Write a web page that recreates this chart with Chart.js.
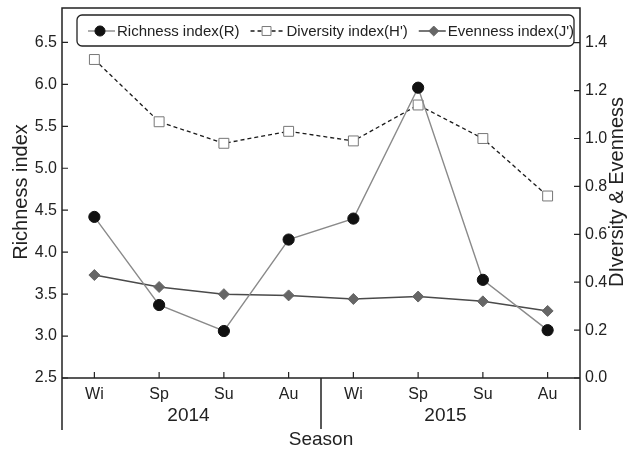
<!DOCTYPE html>
<html>
<head>
<meta charset="utf-8">
<script src="https://cdn.jsdelivr.net/npm/chart.js@4"></script>
<style>
  html, body { margin: 0; padding: 0; background: #fff; }
  #wrap { width: 637px; height: 453px; }
</style>
</head>
<body>
<div id="wrap"><canvas id="c" width="637" height="453"></canvas></div>
<script>
// Seasonal community indices, 2014-2015
const seasons = ['Wi', 'Sp', 'Su', 'Au', 'Wi', 'Sp', 'Su', 'Au'];
const years = ['2014', '2015'];
const richness = [4.42, 3.37, 3.06, 4.15, 4.40, 5.96, 3.67, 3.07];
const diversity = [1.33, 1.07, 0.98, 1.03, 0.99, 1.14, 1.00, 0.76];
const evenness = [0.43, 0.38, 0.35, 0.345, 0.33, 0.34, 0.32, 0.28];
const seriesNames = ['Richness index(R)', "Diversity index(H')", "Evenness index(J')"];
const leftTitle = 'Richness index';
const rightTitle = 'DIversity & Evenness';
const xTitle = 'Season';

const FONT = '"Liberation Sans", Arial, Helvetica, sans-serif';
const INK = '#222';

function keepSteps(step) {
  return scale => {
    scale.ticks = scale.ticks.filter(t => Math.abs(t.value / step - Math.round(t.value / step)) < 1e-6);
  };
}

// Frame, inward tick marks, axis titles, year groups and the boxed legend
const decorations = {
  id: 'decorations',
  afterDraw(chart) {
    const ctx = chart.ctx;
    const a = chart.chartArea;
    const sx = chart.scales.x, sy = chart.scales.y, sy1 = chart.scales.y1;
    const lowEnd = 430;
    ctx.save();
    ctx.strokeStyle = INK;
    ctx.lineWidth = 1.5;
    ctx.beginPath();
    ctx.moveTo(a.left, lowEnd); ctx.lineTo(a.left, a.top); ctx.lineTo(a.right, a.top); ctx.lineTo(a.right, lowEnd);
    ctx.moveTo(a.left, a.bottom); ctx.lineTo(a.right, a.bottom);
    const divX = sx.getPixelForValue(3.5);
    ctx.moveTo(divX, a.bottom); ctx.lineTo(divX, 429);
    ctx.stroke();

    // inward ticks
    ctx.lineWidth = 1.2;
    ctx.beginPath();
    sy.ticks.forEach((t, i) => {
      const y = sy.getPixelForTick(i);
      ctx.moveTo(a.left, y); ctx.lineTo(a.left + 6, y);
    });
    sy1.ticks.forEach((t, i) => {
      const y = sy1.getPixelForTick(i);
      ctx.moveTo(a.right, y); ctx.lineTo(a.right - 6, y);
    });
    sx.ticks.forEach((t, i) => {
      const x = sx.getPixelForTick(i);
      ctx.moveTo(x, a.bottom); ctx.lineTo(x, a.bottom - 6);
    });
    ctx.stroke();

    // year group labels and x title
    ctx.fillStyle = INK;
    ctx.textAlign = 'center';
    ctx.textBaseline = 'middle';
    ctx.font = '19px ' + FONT;
    ctx.fillText(years[0], (a.left + divX) / 2 - 3, 416);
    ctx.fillText(years[1], (divX + a.right) / 2 - 5, 416);
    ctx.fillText(xTitle, divX, 440);

    // vertical titles
    ctx.font = '20px ' + FONT;
    ctx.save();
    ctx.translate(21, 192);
    ctx.rotate(-Math.PI / 2);
    ctx.fillText(leftTitle, 0, 0);
    ctx.restore();
    ctx.save();
    ctx.translate(617, 192);
    ctx.rotate(-Math.PI / 2);
    ctx.fillText(rightTitle, 0, 0);
    ctx.restore();

    // legend box
    ctx.lineWidth = 1.3;
    ctx.strokeStyle = INK;
    ctx.beginPath();
    ctx.roundRect(77, 15, 497, 31, 5);
    ctx.stroke();

    const ly = 31;
    const sampleW = [27, 34, 27];
    const markerAt = [12, 16, 15];
    let x = 88;
    ctx.font = '15px ' + FONT;
    ctx.textAlign = 'left';
    chart.data.datasets.forEach((ds, i) => {
      ctx.save();
      ctx.strokeStyle = ds.borderColor;
      ctx.lineWidth = ds.borderWidth;
      ctx.setLineDash(ds.borderDash || []);
      ctx.beginPath();
      ctx.moveTo(x, ly); ctx.lineTo(x + sampleW[i], ly);
      ctx.stroke();
      ctx.setLineDash([]);
      ctx.fillStyle = ds.pointBackgroundColor;
      ctx.strokeStyle = ds.pointBorderColor;
      ctx.lineWidth = ds.pointBorderWidth;
      Chart.helpers.drawPoint(ctx, {
        pointStyle: ds.pointStyle,
        radius: ds.pointRadius * 0.9,
        borderWidth: ds.pointBorderWidth,
        rotation: 0
      }, x + markerAt[i], ly);
      ctx.restore();
      const tx = x + sampleW[i] + 2;
      ctx.fillStyle = INK;
      ctx.fillText(ds.label, tx, ly + 1);
      x = tx + ctx.measureText(ds.label).width + 11;
    });
    ctx.restore();
  }
};

new Chart(document.getElementById('c'), {
  type: 'line',
  data: {
    labels: seasons,
    datasets: [
      {
        label: seriesNames[0],
        data: richness,
        yAxisID: 'y',
        borderColor: '#8a8a8a',
        borderWidth: 1.4,
        pointStyle: 'circle',
        pointRadius: 5.6,
        pointBackgroundColor: '#111',
        pointBorderColor: '#111',
        pointBorderWidth: 1
      },
      {
        label: seriesNames[1],
        data: diversity,
        yAxisID: 'y1',
        borderColor: '#1a1a1a',
        borderWidth: 1.3,
        borderDash: [4, 3],
        pointStyle: 'rect',
        pointRadius: 7,
        pointBackgroundColor: '#fff',
        pointBorderColor: '#777',
        pointBorderWidth: 1
      },
      {
        label: seriesNames[2],
        data: evenness,
        yAxisID: 'y1',
        borderColor: '#4a4a4a',
        borderWidth: 1.5,
        pointStyle: 'rectRot',
        pointRadius: 5.5,
        pointBackgroundColor: '#666',
        pointBorderColor: '#666',
        pointBorderWidth: 1
      }
    ]
  },
  options: {
    responsive: false,
    animation: false,
    events: [],
    layout: { padding: { top: 7, left: 0, right: 0, bottom: 0 } },
    plugins: { legend: { display: false }, tooltip: { enabled: false } },
    elements: { line: { tension: 0 } },
    scales: {
      x: {
        type: 'category',
        offset: true,
        grid: { display: false, drawTicks: false },
        border: { display: false },
        ticks: { color: INK, font: { size: 16, family: FONT }, padding: 7, maxRotation: 0, autoSkip: false },
        afterFit: s => { s.height = 75; s.paddingLeft = 0; s.paddingRight = 0; }
      },
      y: {
        position: 'left',
        min: 2.5,
        max: 6.91,
        grid: { display: false, drawTicks: false },
        border: { display: false },
        ticks: { stepSize: 0.5, color: INK, font: { size: 16, family: FONT }, padding: 5, callback: v => Number(v).toFixed(1) },
        afterBuildTicks: keepSteps(0.5),
        afterFit: s => { s.width = 62; s.paddingTop = 0; s.paddingBottom = 0; }
      },
      y1: {
        position: 'right',
        min: 0,
        max: 1.545,
        grid: { display: false, drawTicks: false },
        border: { display: false },
        ticks: { stepSize: 0.2, color: INK, font: { size: 16, family: FONT }, padding: 5, callback: v => Number(v).toFixed(1) },
        afterBuildTicks: keepSteps(0.2),
        afterFit: s => { s.width = 57; s.paddingTop = 0; s.paddingBottom = 0; }
      }
    }
  },
  plugins: [decorations]
});
</script>
</body>
</html>
